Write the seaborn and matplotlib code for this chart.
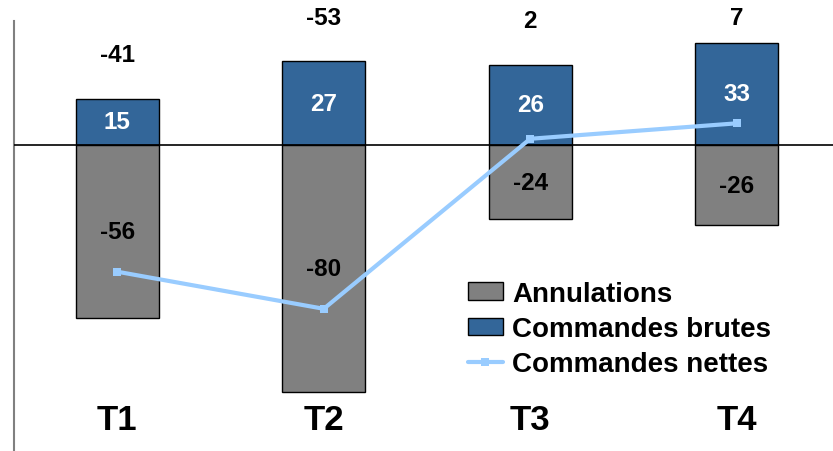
import numpy as np
import pandas as pd
import seaborn as sns
import matplotlib.pyplot as plt
from matplotlib import font_manager
from matplotlib.patches import Patch
from matplotlib.lines import Line2D

# data
trimestres = ["T1", "T2", "T3", "T4"]
commandes_brutes = [15, 27, 26, 33]
annulations = [-56, -80, -24, -26]
commandes_nettes = [-41, -53, 2, 7]

bleu = "#336699"
gris = "#808080"
bleu_clair = "#99CCFF"

sns.set_theme(style="white")
names = {f.name for f in font_manager.fontManager.ttflist}
narrow = "Liberation Sans Narrow" if "Liberation Sans Narrow" in names else "Liberation Sans"
plt.rcParams['font.family'] = ['Liberation Sans', 'DejaVu Sans']
plt.rcParams['text.color'] = 'black'

df = pd.DataFrame({"trimestre": trimestres,
                   "brutes": commandes_brutes,
                   "annul": annulations,
                   "nettes": commandes_nettes})

fig = plt.figure(figsize=(8.33, 4.52), dpi=100)
ax = fig.add_axes([14/833, 0, 1 - 14/833, 430/452])

sns.barplot(data=df, x="trimestre", y="brutes", color=bleu, saturation=1,
            width=0.4, edgecolor="black", linewidth=1, ax=ax)
sns.barplot(data=df, x="trimestre", y="annul", color=gris, saturation=1,
            width=0.4, edgecolor="black", linewidth=1, ax=ax)
ax.axhline(0, color="black", lw=1.2, zorder=3)
sns.lineplot(x=np.arange(len(trimestres)), y=df["nettes"], color=bleu_clair,
             lw=3, marker="s", markersize=6, markeredgewidth=0, ax=ax, zorder=4)

ax.set_xlim(-0.5, 3.466)
ax.set_ylim(-99, 40.1)
for s in ["top", "right", "bottom"]:
    ax.spines[s].set_visible(False)
ax.spines["left"].set_color(gris)
ax.spines["left"].set_linewidth(1.5)
ax.set_xticks([])
ax.set_yticks([])
ax.set_xlabel("")
ax.set_ylabel("")

# value labels
for i, t in enumerate(trimestres):
    b = df["brutes"][i]
    a = df["annul"][i]
    n = df["nettes"][i]
    ax.text(i, b / 2, str(b), color="white", fontsize=17.5, fontweight="bold",
            ha="center", va="center", zorder=5)
    ax.text(i, a / 2, str(a), color="black", fontsize=17.5, fontweight="bold",
            ha="center", va="center", zorder=5)
    ax.text(i, min(b + 14.2, 41.2), str(n), color="black", fontsize=17.5,
            fontweight="bold", ha="center", va="center")
    ax.text(i, -88.7, t, color="black", fontsize=25, fontweight="bold",
            family=[narrow, "DejaVu Sans"], ha="center", va="center")

handles = [Patch(facecolor=gris, edgecolor="black", lw=1),
           Patch(facecolor=bleu, edgecolor="black", lw=1),
           Line2D([], [], color=bleu_clair, lw=3, marker="s", markersize=6, markeredgewidth=0)]
labels = ["Annulations", "Commandes brutes", "Commandes nettes"]
leg = fig.legend(handles, labels, loc="upper left", bbox_to_anchor=(468/833, 1 - 282/452),
                 frameon=False, borderpad=0, borderaxespad=0, handlelength=1.25,
                 handleheight=0.6, handletextpad=0.35, labelspacing=0.33,
                 prop={"size": 20, "weight": "bold"})
for txt in leg.get_texts():
    txt.set_color("black")

fig.savefig("out.png", dpi=100)
